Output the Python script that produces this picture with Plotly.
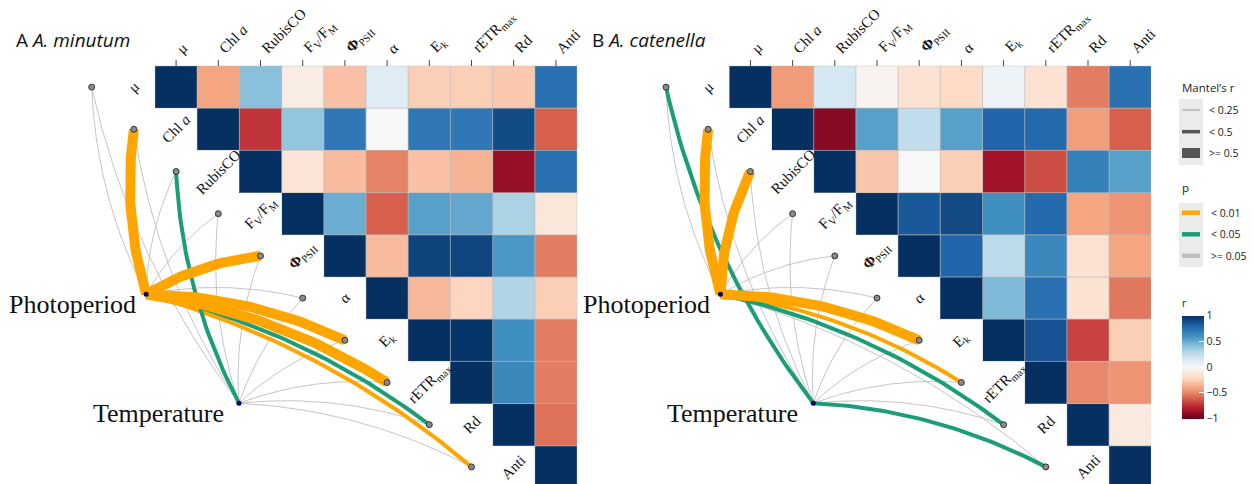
import plotly.graph_objects as go
import numpy as np

# ---------------- data ----------------
variables = ["μ", "Chl <i>a</i>", "RubisCO", "F<sub>V</sub>/F<sub>M</sub>", "<b>Φ</b><sub>PSII</sub>",
             "α", "E<sub>k</sub>", "rETR<sub>max</sub>", "Rd", "Anti"]

# upper-triangle correlation rows (row i holds columns i..9)
r_minutum = [
    [1.00, -0.40, 0.42, -0.08, -0.30, 0.12, -0.25, -0.25, -0.27, 0.75],
    [1.00, -0.72, 0.40, 0.72, 0.00, 0.72, 0.72, 0.90, -0.60],
    [1.00, -0.13, -0.32, -0.50, -0.30, -0.35, -0.87, 0.75],
    [1.00, 0.50, -0.60, 0.55, 0.52, 0.32, -0.12],
    [1.00, -0.32, 0.93, 0.92, 0.58, -0.52],
    [1.00, -0.33, -0.22, 0.30, -0.25],
    [1.00, 0.98, 0.62, -0.52],
    [1.00, 0.65, -0.52],
    [1.00, -0.55],
    [1.00],
]
r_catenella = [
    [1.00, -0.43, 0.18, -0.03, -0.15, -0.20, 0.06, -0.15, -0.52, 0.75],
    [1.00, -0.92, 0.55, 0.25, 0.55, 0.80, 0.78, -0.42, -0.60],
    [1.00, -0.28, 0.00, -0.25, -0.84, -0.65, 0.68, 0.55],
    [1.00, 0.85, 0.90, 0.62, 0.78, -0.40, -0.45],
    [1.00, 0.80, 0.27, 0.65, -0.15, -0.40],
    [1.00, 0.45, 0.75, -0.15, -0.53],
    [1.00, 0.87, -0.68, -0.25],
    [1.00, -0.48, -0.45],
    [1.00, -0.10],
    [1.00],
]

env_names = ["Photoperiod", "Temperature"]
mantel_r_minutum = {
    "Photoperiod": [0.10, 0.62, 0.12, 0.15, 0.60, 0.12, 0.60, 0.58, 0.35, 0.38],
    "Temperature": [0.08, 0.10, 0.35, 0.12, 0.10, 0.08, 0.10, 0.12, 0.10, 0.08],
}
mantel_p_minutum = {
    "Photoperiod": [0.40, 0.005, 0.30, 0.25, 0.004, 0.35, 0.003, 0.004, 0.03, 0.008],
    "Temperature": [0.50, 0.40, 0.03, 0.30, 0.45, 0.50, 0.40, 0.35, 0.40, 0.50],
}
mantel_r_catenella = {
    "Photoperiod": [0.10, 0.62, 0.60, 0.12, 0.10, 0.12, 0.58, 0.35, 0.33, 0.10],
    "Temperature": [0.34, 0.10, 0.12, 0.10, 0.08, 0.10, 0.12, 0.10, 0.10, 0.35],
}
mantel_p_catenella = {
    "Photoperiod": [0.30, 0.004, 0.005, 0.30, 0.40, 0.35, 0.004, 0.008, 0.03, 0.30],
    "Temperature": [0.03, 0.40, 0.35, 0.45, 0.50, 0.40, 0.30, 0.35, 0.40, 0.03],
}

panels = [
    dict(tag="A", species="A. minutum", r=r_minutum, mr=mantel_r_minutum, mp=mantel_p_minutum),
    dict(tag="B", species="A. catenella", r=r_catenella, mr=mantel_r_catenella, mp=mantel_p_catenella),
]

# ---------------- layout constants ----------------
W, H = 1254, 484
UNIT = 42.2
ROW0_Y = 87.1
PANEL_LEFT = [155.0, 729.3]
PLOT_RIGHT = 1151
OFFSETS = [(L - PANEL_LEFT[0]) / UNIT for L in PANEL_LEFT]      # panel shift in cell units
ENV_POS = {"Photoperiod": (-0.71, 4.91), "Temperature": (1.49, 7.49)}
ENV_LABEL_SHIFT = {"Photoperiod": (-8, -10), "Temperature": (-13, -10)}
TITLE_X = [14, 590]

SERIF = "Liberation Serif, Times New Roman, serif"
SANS = "Open Sans, Noto Sans, sans-serif"
ORANGE, GREEN, GREY = "#FFA500", "#1B9E77", "#BDBDBD"

rdbu = ["#67001F", "#B2182B", "#D6604D", "#F4A582", "#FDDBC7", "#F7F7F7",
        "#D1E5F0", "#92C5DE", "#4393C3", "#2166AC", "#053061"]
colorscale = [[i / 10, c] for i, c in enumerate(rdbu)]

n = len(variables)
fig = go.Figure()


def px(x):
    return x / W


def py(y):
    return 1 - y / H


def width_of(r):
    return 0.9 if r < 0.25 else (4.0 if r < 0.5 else 10.0)


def color_of(p):
    return ORANGE if p < 0.01 else (GREEN if p < 0.05 else GREY)


def bezier(p0, p1, k=0.11, m=40):
    p0 = np.array(p0, float); p1 = np.array(p1, float)
    d = p1 - p0
    mid = (p0 + p1) / 2
    c = mid + k * np.array([d[1], -d[0]])
    t = np.linspace(0, 1, m)[:, None]
    pts = (1 - t) ** 2 * p0 + 2 * (1 - t) * t * c + t ** 2 * p1
    return pts[:, 0], pts[:, 1]


annotations = []
shapes = []

for pi, P in enumerate(panels):
    o = OFFSETS[pi]
    Z = [[None] * n for _ in range(n)]
    for i, row in enumerate(P["r"]):
        for k, v in enumerate(row):
            Z[i][i + k] = v
    fig.add_trace(go.Heatmap(z=Z, x=[j + o for j in range(n)], y=list(range(n)), coloraxis="coloraxis",
                             hoverongaps=False))
    gx, gy = [], []
    for i in range(n):
        for j in range(i, n):
            gx += [j - .5 + o, j + .5 + o, j + .5 + o, j - .5 + o, j - .5 + o, None]
            gy += [i - .5, i - .5, i + .5, i + .5, i - .5, None]
    fig.add_trace(go.Scatter(x=gx, y=gy, mode="lines", line=dict(color="rgba(190,190,190,0.7)", width=0.6),
                             hoverinfo="skip", showlegend=False))
    tx, ty = [], []
    for j in range(n):
        tx += [j + o, j + o, None]; ty += [-0.5, -0.64, None]
    fig.add_trace(go.Scatter(x=tx, y=ty, mode="lines", line=dict(color="#444", width=1),
                             hoverinfo="skip", showlegend=False))
    for j, lab in enumerate(variables):
        annotations.append(dict(x=j + o, y=-0.66, xref="x", yref="y", text=lab, showarrow=False,
                                textangle=-45, xanchor="left", yanchor="bottom", xshift=-5,
                                font=dict(family=SERIF, size=15, color="#111")))
    for i, lab in enumerate(variables):
        annotations.append(dict(x=i - 1 + o, y=i, xref="x", yref="y", text=lab, showarrow=False,
                                textangle=-45, xanchor="center", yanchor="middle",
                                font=dict(family=SERIF, size=15, color="#111")))
    links = []
    for e in env_names:
        for i in range(n):
            links.append((P["mr"][e][i], e, i, P["mp"][e][i]))
    order = sorted(links, key=lambda L: (width_of(L[0]), 0 if color_of(L[3]) == GREY else 1))
    for r, e, i, p in order:
        ex, ey = ENV_POS[e]
        lx, ly = bezier((ex + o, ey), (i - 2 + o, i))
        fig.add_trace(go.Scatter(x=lx, y=ly, mode="lines", line=dict(color=color_of(p), width=width_of(r)),
                                 hoverinfo="skip", showlegend=False))
    fig.add_trace(go.Scatter(x=[i - 2 + o for i in range(n)], y=list(range(n)), mode="markers",
                             marker=dict(size=6, color="#8a8a8a", line=dict(color="#333", width=1)),
                             hoverinfo="skip", showlegend=False))
    fig.add_trace(go.Scatter(x=[ENV_POS[e][0] + o for e in env_names], y=[ENV_POS[e][1] for e in env_names],
                             mode="markers", marker=dict(size=5, color="#000066"),
                             hoverinfo="skip", showlegend=False))
    for e in env_names:
        sx, sy = ENV_LABEL_SHIFT[e]
        annotations.append(dict(x=ENV_POS[e][0] + o, y=ENV_POS[e][1], xref="x", yref="y", text=e,
                                showarrow=False, xanchor="right", yanchor="middle", xshift=sx, yshift=sy,
                                font=dict(family=SERIF, size=26, color="#111")))
    annotations.append(dict(x=px(TITLE_X[pi]), y=py(40), xref="paper", yref="paper",
                            text=f"{P['tag']} <i>{P['species']}</i>", showarrow=False,
                            xanchor="left", yanchor="middle", font=dict(family=SANS, size=19, color="#111")))

# ---------------- legends ----------------
mantel_labels = ["< 0.25", "< 0.5", ">= 0.5"]
mantel_widths = [1.0, 3.5, 10.0]
p_labels = ["< 0.01", "< 0.05", ">= 0.05"]
p_colors = [ORANGE, GREEN, GREY]

annotations.append(dict(x=px(1180), y=py(87), xref="paper", yref="paper", text="Mantel’s r",
                        showarrow=False, xanchor="left", yanchor="middle",
                        font=dict(family=SANS, size=11.5, color="#222")))
shapes.append(dict(type="rect", xref="paper", yref="paper", x0=px(1179), x1=px(1203), y0=py(99), y1=py(165),
                   fillcolor="#EBEBEB", line=dict(width=0)))
for k, (lab, wd) in enumerate(zip(mantel_labels, mantel_widths)):
    yy = [110, 131.7, 153][k]
    shapes.append(dict(type="rect", xref="paper", yref="paper", x0=px(1182), x1=px(1200),
                       y0=py(yy - wd / 2), y1=py(yy + wd / 2),
                       fillcolor="#9a9a9a" if k == 0 else "#555555", line=dict(width=0)))
    annotations.append(dict(x=px(1207), y=py(yy), xref="paper", yref="paper", text=lab, showarrow=False,
                            xanchor="left", yanchor="middle", font=dict(family=SANS, size=10.5, color="#222")))
annotations.append(dict(x=px(1180), y=py(187), xref="paper", yref="paper", text="p",
                        showarrow=False, xanchor="left", yanchor="middle",
                        font=dict(family=SANS, size=11.5, color="#222")))
shapes.append(dict(type="rect", xref="paper", yref="paper", x0=px(1179), x1=px(1203), y0=py(203), y1=py(267),
                   fillcolor="#EBEBEB", line=dict(width=0)))
for k, (lab, col) in enumerate(zip(p_labels, p_colors)):
    yy = [212.7, 234.3, 255.7][k]
    shapes.append(dict(type="rect", xref="paper", yref="paper", x0=px(1182), x1=px(1200),
                       y0=py(yy - 2.2), y1=py(yy + 2.2), fillcolor=col, line=dict(width=0)))
    annotations.append(dict(x=px(1209), y=py(yy), xref="paper", yref="paper", text=lab, showarrow=False,
                            xanchor="left", yanchor="middle", font=dict(family=SANS, size=10.5, color="#222")))

c0 = PANEL_LEFT[0] + UNIT / 2
xr = [(0 - c0) / UNIT, (PLOT_RIGHT - c0) / UNIT]
yr = [(H - ROW0_Y) / UNIT, (0 - ROW0_Y) / UNIT]
axis_common = dict(showgrid=False, zeroline=False, showticklabels=False, ticks="", showline=False)

fig.update_layout(
    width=W, height=H, margin=dict(l=0, r=0, t=0, b=0),
    paper_bgcolor="white", plot_bgcolor="rgba(0,0,0,0)", showlegend=False,
    xaxis=dict(domain=[0, PLOT_RIGHT / W], range=xr, anchor="y", **axis_common),
    yaxis=dict(domain=[0, 1], range=yr, **axis_common),
    coloraxis=dict(colorscale=colorscale, cmin=-1, cmax=1,
                   colorbar=dict(x=px(1182), xanchor="left", xpad=0, ypad=0,
                                 y=py(357.5), yanchor="middle", len=122, lenmode="pixels",
                                 thickness=22, thicknessmode="pixels", outlinewidth=0,
                                 tickvals=[-1, -0.5, 0, 0.5, 1], ticktext=["−1", "−0.5", "0", "0.5", "1"],
                                 ticks="inside", ticklen=5, tickcolor="white",
                                 tickfont=dict(family=SANS, size=10.5, color="#222"),
                                 title=dict(text="r", side="top", font=dict(family=SANS, size=10.5, color="#222")))),
    annotations=annotations, shapes=shapes,
)

fig.write_html("out.html")
